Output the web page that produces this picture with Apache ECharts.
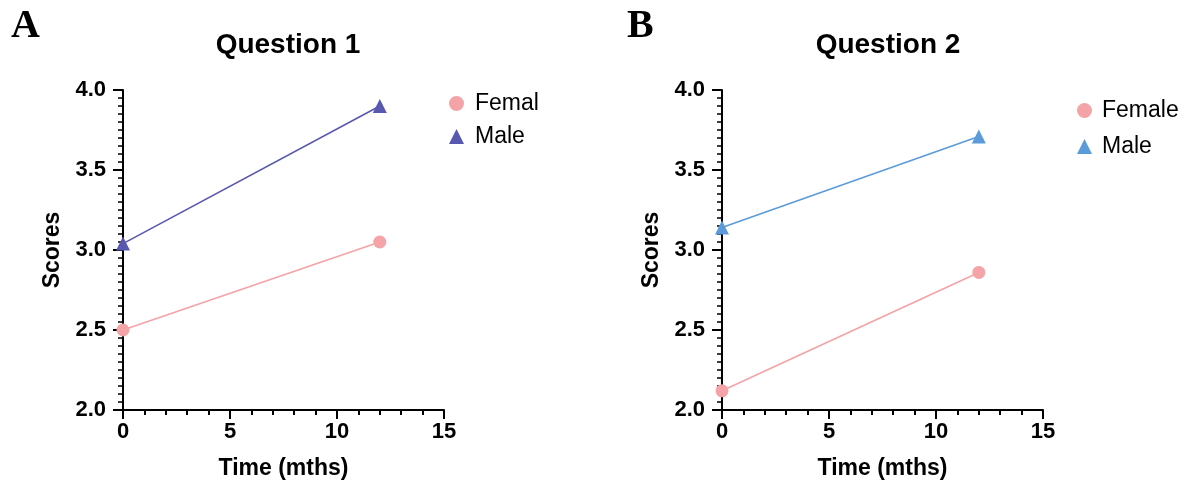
<!DOCTYPE html>
<html><head><meta charset="utf-8">
<script src="https://cdn.jsdelivr.net/npm/echarts@6/dist/echarts.min.js"></script>
<style>html,body{margin:0;padding:0;background:#fff}#c{width:1192px;height:486px}</style>
</head><body><div id="c"></div>
<script>
const times = [0, 12];
const q1Female = [2.50, 3.05];
const q1Male = [3.04, 3.90];
const q2Female = [2.12, 2.86];
const q2Male = [3.14, 3.71];
const titles = ['Question 1', 'Question 2'];
const panelLabels = ['A', 'B'];
const legendNames1 = ['Femal', 'Male'];
const legendNames2 = ['Female', 'Male '];

const FONT = '"Liberation Sans", Arial, sans-serif';
const SERIF = '"Liberation Serif", "Times New Roman", serif';
const pink = '#F4A3A6';
const purple = '#5858B0';
const blue = '#5B9BD9';

function xAxis(gi) {
  return {
    type: 'value', gridIndex: gi, min: 0, max: 15, interval: 5,
    name: 'Time (mths)', nameLocation: 'middle', nameGap: 47,
    nameTextStyle: {fontFamily: FONT, fontWeight: 'bold', fontSize: 23, color: '#000'},
    axisLine: {lineStyle: {color: '#000', width: 2}},
    axisTick: {show: true, length: 9, lineStyle: {color: '#000', width: 2}},
    minorTick: {show: true, splitNumber: 5, length: 5, lineStyle: {color: '#000', width: 2}},
    axisLabel: {fontFamily: FONT, fontWeight: 'bold', fontSize: 22, color: '#000', margin: 11},
    splitLine: {show: false}
  };
}
function yAxis(gi) {
  return {
    type: 'value', gridIndex: gi, min: 2.0, max: 4.0, interval: 0.5,
    name: 'Scores', nameLocation: 'middle', nameGap: 59,
    nameTextStyle: {fontFamily: FONT, fontWeight: 'bold', fontSize: 23, color: '#000'},
    axisLine: {show: true, lineStyle: {color: '#000', width: 2}},
    axisTick: {show: true, length: 10, lineStyle: {color: '#000', width: 2}},
    minorTick: {show: true, splitNumber: 10, length: 5, lineStyle: {color: '#000', width: 1.5}},
    axisLabel: {fontFamily: FONT, fontWeight: 'bold', fontSize: 22, color: '#000', margin: 17,
      formatter: v => v.toFixed(1)},
    splitLine: {show: false}
  };
}
function pairs(ys) { return times.map((t, i) => [t, ys[i]]); }
function ser(name, gi, ys, color, symbol, size) {
  return {
    type: 'line', name: name, xAxisIndex: gi, yAxisIndex: gi, data: pairs(ys),
    symbol: symbol, symbolSize: size, showSymbol: true,
    lineStyle: {color: color, width: 1.6}, itemStyle: {color: color},
    emphasis: {disabled: true}
  };
}

const option = {
  animation: false,
  backgroundColor: '#fff',
  title: [
    {text: panelLabels[0], left: 6, top: 2, textStyle: {fontFamily: SERIF, fontWeight: 'bold', fontSize: 40, color: '#000'}},
    {text: panelLabels[1], left: 622, top: 2, textStyle: {fontFamily: SERIF, fontWeight: 'bold', fontSize: 40, color: '#000'}},
    {text: titles[0], left: 283, top: 26, textAlign: 'center', textStyle: {fontFamily: FONT, fontWeight: 'bold', fontSize: 28, color: '#000'}},
    {text: titles[1], left: 883, top: 26, textAlign: 'center', textStyle: {fontFamily: FONT, fontWeight: 'bold', fontSize: 28, color: '#000'}}
  ],
  legend: [
    {orient: 'vertical', left: 444, top: 87, itemGap: 10, itemWidth: 15, itemHeight: 15,
     textStyle: {fontFamily: FONT, fontSize: 23, color: '#000', padding: [0, 0, 0, 6]},
     data: [{name: legendNames1[0], icon: 'circle'}, {name: legendNames1[1], icon: 'triangle'}]},
    {orient: 'vertical', left: 1072, top: 94, itemGap: 13, itemWidth: 15, itemHeight: 15,
     textStyle: {fontFamily: FONT, fontSize: 23, color: '#000', padding: [0, 0, 0, 5]},
     formatter: n => n.trim(),
     data: [{name: legendNames2[0], icon: 'circle'}, {name: legendNames2[1], icon: 'triangle'}]}
  ],
  grid: [
    {left: 123, top: 90, width: 321, height: 320, containLabel: false},
    {left: 722, top: 90, width: 321, height: 320, containLabel: false}
  ],
  xAxis: [xAxis(0), xAxis(1)],
  yAxis: [yAxis(0), yAxis(1)],
  series: [
    ser(legendNames1[0], 0, q1Female, pink, 'circle', 13),
    ser(legendNames1[1], 0, q1Male, purple, 'triangle', 14),
    ser(legendNames2[0], 1, q2Female, pink, 'circle', 13),
    ser(legendNames2[1], 1, q2Male, blue, 'triangle', 14)
  ]
};
const chart = echarts.init(document.getElementById('c'), null, {renderer: 'canvas'});
chart.setOption(option);
</script></body></html>
